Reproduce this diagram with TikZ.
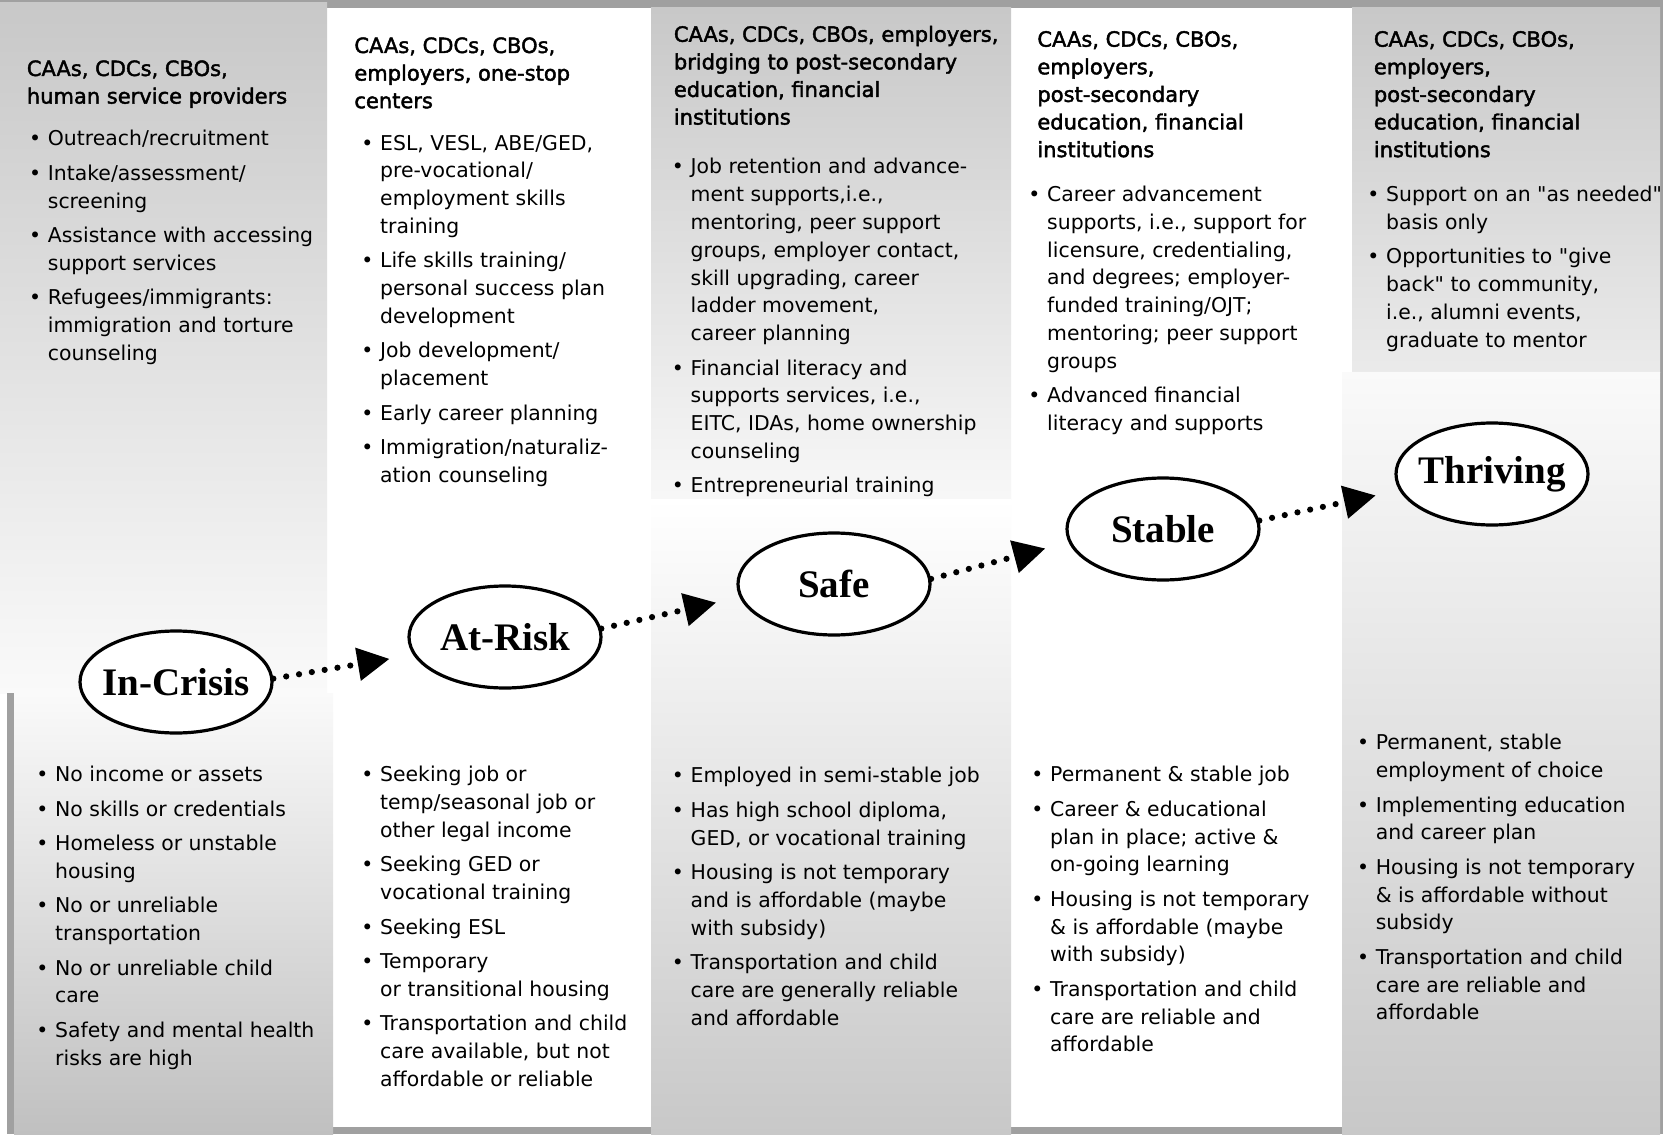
\documentclass[tikz,border=0pt]{standalone}
\usepackage{fontspec}
\setmainfont{DejaVu Sans}
\newfontfamily\hdfont{DejaVu Sans}[FakeBold=2]
\newfontfamily\stfont{Liberation Serif}
\usetikzlibrary{arrows.meta,shapes.geometric}

\definecolor{frame}{HTML}{A0A0A0}
\definecolor{panel}{HTML}{C8C8C8}

\newcommand{\bu}{\makebox[9.4pt][l]{\textbullet}}
\newcommand{\cn}{\hspace*{9.4pt}}
\newcommand{\qq}{\textquotedbl}

\tikzset{
  hdr/.style={anchor=north west, inner sep=0pt, align=left,
    font=\hdfont\fontsize{10.5}{13.8}\selectfont},
  lst/.style={anchor=north west, inner sep=0pt, align=left,
    font=\fontsize{10.2}{13.9}\selectfont},
  stage/.style={ellipse, draw, line width=1.6pt, fill=white,
    minimum width=96pt, minimum height=51pt, inner xsep=-14pt, inner ysep=0pt,
    font=\stfont\bfseries\fontsize{19.5}{24}\selectfont},
  flow/.style={line width=3.1pt, dash pattern=on 0pt off 6.5pt,
    line cap=round, -{Triangle[length=16pt,width=16pt]}, shorten >=12pt},
}

\begin{document}
\begin{tikzpicture}[x=0.5pt,y=-0.5pt]
\useasboundingbox (0,0) rectangle (1663,1134);

% frame and column panels
\fill[white] (0,0) rectangle (1663,1134);
\fill[frame] (0,0) rectangle (1663,8);
\fill[frame] (1660,0) rectangle (1663,1134);
\fill[frame] (327,1127) rectangle (1660,1134);
\fill[top color=panel, middle color=white!90!black, bottom color=white!98!black] (0,3) rectangle (327,693);
\fill[frame] (7,693) rectangle (14,1134);
\fill[top color=white!98!black, middle color=white!91!black, bottom color=panel!96!black] (14,693) rectangle (333,1134);
\fill[top color=panel, middle color=white!91!black, bottom color=white!97!black] (651,8) rectangle (1011,499);
\fill[top color=white, middle color=white!92!black, bottom color=panel] (651,499) rectangle (1011,1134);
\fill[top color=panel, bottom color=white!92!black] (1352,8) rectangle (1660,372);
\fill[top color=white!98!black, middle color=white!92!black, bottom color=panel] (1342,372) rectangle (1660,1134);

% In-Crisis
\node[hdr] (prov1) at (26.5,60) {CAAs, CDCs, CBOs,\\human service providers};
\node[lst] (serv1) at (28.7,130) {\bu Outreach/recruitment\\[3.3pt]
  \bu Intake/assessment/\\\cn screening\\[3.3pt]
  \bu Assistance with accessing\\\cn support services\\[3.3pt]
  \bu Refugees/immigrants:\\\cn immigration and torture\\\cn counseling};
\node[lst] (cond1) at (36,766) {\bu No income or assets\\[3.3pt]
  \bu No skills or credentials\\[3.3pt]
  \bu Homeless or unstable\\\cn housing\\[3.3pt]
  \bu No or unreliable\\\cn transportation\\[3.3pt]
  \bu No or unreliable child\\\cn care\\[3.3pt]
  \bu Safety and mental health\\\cn risks are high};

% At-Risk
\node[hdr] (prov2) at (354,37) {CAAs, CDCs, CBOs,\\employers, one-stop\\centers};
\node[lst] (serv2) at (361,134.6) {\bu ESL, VESL, ABE/GED,\\\cn pre-vocational/\\\cn employment skills\\\cn training\\[3.3pt]
  \bu Life skills training/\\\cn personal success plan\\\cn development\\[3.3pt]
  \bu Job development/\\\cn placement\\[3.3pt]
  \bu Early career planning\\[3.3pt]
  \bu Immigration/naturaliz-\\\cn ation counseling};
\node[lst] (cond2) at (361,766) {\bu Seeking job or\\\cn temp/seasonal job or\\\cn other legal income\\[3.3pt]
  \bu Seeking GED or\\\cn vocational training\\[3.3pt]
  \bu Seeking ESL\\[3.3pt]
  \bu Temporary\\\cn or transitional housing\\[3.3pt]
  \bu Transportation and child\\\cn care available, but not\\\cn affordable or reliable};

% Safe
\node[hdr] (prov3) at (673.5,25.4) {CAAs, CDCs, CBOs, employers,\\bridging to post-secondary\\education, financial\\institutions};
\node[lst] (serv3) at (671.5,158) {\bu Job retention and advance-\\\cn ment supports,i.e.,\\\cn mentoring, peer support\\\cn groups, employer contact,\\\cn skill upgrading, career\\\cn ladder movement,\\\cn career planning\\[3.3pt]
  \bu Financial literacy and\\\cn supports services, i.e.,\\\cn EITC, IDAs, home ownership\\\cn counseling\\[3.3pt]
  \bu Entrepreneurial training};
\node[lst] (cond3) at (671.5,767) {\bu Employed in semi-stable job\\[3.3pt]
  \bu Has high school diploma,\\\cn GED, or vocational training\\[3.3pt]
  \bu Housing is not temporary\\\cn and is affordable (maybe\\\cn with subsidy)\\[3.3pt]
  \bu Transportation and child\\\cn care are generally reliable\\\cn and affordable};

% Stable
\node[hdr] (prov4) at (1037,30.7) {CAAs, CDCs, CBOs,\\employers,\\post-secondary\\education, financial\\institutions};
\node[lst] (serv4) at (1028,185.5) {\bu Career advancement\\\cn supports, i.e., support for\\\cn licensure, credentialing,\\\cn and degrees; employer-\\\cn funded training/OJT;\\\cn mentoring; peer support\\\cn groups\\[3.3pt]
  \bu Advanced financial\\\cn literacy and supports};
\node[lst] (cond4) at (1031,766) {\bu Permanent \& stable job\\[3.3pt]
  \bu Career \& educational\\\cn plan in place; active \&\\\cn on-going learning\\[3.3pt]
  \bu Housing is not temporary\\\cn \& is affordable (maybe\\\cn with subsidy)\\[3.3pt]
  \bu Transportation and child\\\cn care are reliable and\\\cn affordable};

% Thriving
\node[hdr] (prov5) at (1373.5,30.7) {CAAs, CDCs, CBOs,\\employers,\\post-secondary\\education, financial\\institutions};
\node[lst] (serv5) at (1367,185.5) {\bu Support on an \qq as needed\qq\\\cn basis only\\[3.3pt]
  \bu Opportunities to \qq give\\\cn back\qq{} to community,\\\cn i.e., alumni events,\\\cn graduate to mentor};
\node[lst] (cond5) at (1356.6,734) {\bu Permanent, stable\\\cn employment of choice\\[3.3pt]
  \bu Implementing education\\\cn and career plan\\[3.3pt]
  \bu Housing is not temporary\\\cn \& is affordable without\\\cn subsidy\\[3.3pt]
  \bu Transportation and child\\\cn care are reliable and\\\cn affordable};

% stages
\node[stage] (crisis) at (176,682) {In-Crisis};
\node[stage] (risk) at (505,637) {At-Risk};
\node[stage] (safe) at (834,584) {Safe};
\node[stage] (stable) at (1163,529) {Stable};
\node[stage] (thriving) at (1492,474) {Thriving};

\draw[flow] (crisis.2) -- (risk.191);
\draw[flow] (risk.5) -- (safe.188);
\draw[flow] (safe.3) -- (stable.188);
\draw[flow] (stable.5) -- (thriving.190);

\end{tikzpicture}
\end{document}
